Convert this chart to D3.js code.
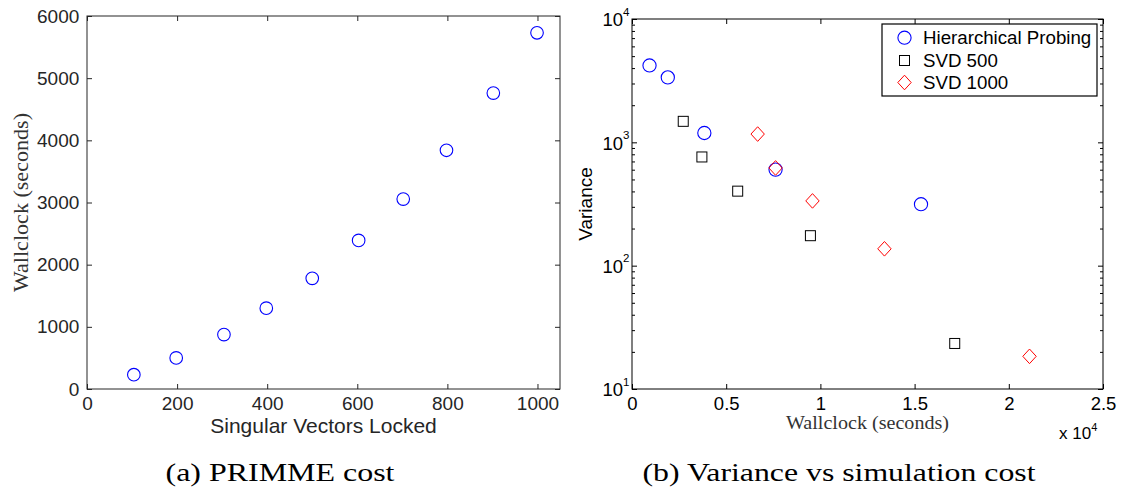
<!DOCTYPE html>
<html>
<head>
<meta charset="utf-8">
<script src="https://cdn.jsdelivr.net/npm/d3@7"></script>
<style>
  html, body { margin: 0; padding: 0; background: #fff; }
  svg { display: block; }
  .sans, .sans text { font-family: "Liberation Sans", Arial, Helvetica, sans-serif; }
  .serif { font-family: "Liberation Serif", "DejaVu Serif", serif; }
</style>
</head>
<body>
<svg id="fig" width="1121" height="490"></svg>
<script>
// (a) PRIMME cost: wallclock time against number of locked singular vectors
const lockedVectors = [104, 198, 304, 398, 500, 603, 702, 798, 902, 999];
const primmeSeconds = [230, 500, 875, 1300, 1780, 2390, 3055, 3840, 4760, 5730];
const primmeXTicks = [0, 200, 400, 600, 800, 1000];
const primmeYTicks = [0, 1000, 2000, 3000, 4000, 5000, 6000];

// (b) Variance against simulation cost for three estimators
const probingCost = [930, 1900, 3840, 7620, 15340];
const probingVariance = [4200, 3360, 1190, 601, 315];
const svd500Cost = [2720, 3710, 5610, 9470, 17130];
const svd500Variance = [1480, 761, 402, 175, 23.4];
const svd1000Cost = [6670, 7620, 9580, 13400, 21100];
const svd1000Variance = [1167, 620, 335, 137, 18.4];
const costTicks = [0, 5000, 10000, 15000, 20000, 25000];
const varianceDecades = [1, 2, 3, 4];
const seriesNames = ["Hierarchical Probing", "SVD 500", "SVD 1000"];

const svg = d3.select("#fig");
const BLUE = "#0000ff", RED = "#ff0000";

// ---------- panel (a) ----------
const xL = d3.scaleLinear().domain([0, 1050]).range([87, 560]);
const yL = d3.scaleLinear().domain([0, 6000]).range([389, 16]);
const colA = "#262626";
const plain = d3.format("d");

const gA = svg.append("g").attr("class", "sans");

function styleAxis(g, color, fs) {
  g.select(".domain").remove();
  g.attr("font-family", null);
  g.selectAll(".tick line").attr("stroke", color);
  g.selectAll(".tick text").attr("fill", color).attr("font-size", fs);
}

gA.append("g").attr("transform", `translate(0,${yL(0)})`)
  .call(d3.axisBottom(xL).tickValues(primmeXTicks).tickFormat(plain)
    .tickSizeInner(-5).tickSizeOuter(0).tickPadding(7.5))
  .call(g => styleAxis(g, colA, 19));
gA.append("g").attr("transform", `translate(0,${yL(6000)})`)
  .call(d3.axisTop(xL).tickValues(primmeXTicks).tickSizeInner(-5).tickSizeOuter(0).tickFormat(""))
  .call(g => styleAxis(g, colA, 19));
gA.append("g").attr("transform", `translate(${xL(0)},0)`)
  .call(d3.axisLeft(yL).tickValues(primmeYTicks).tickFormat(plain)
    .tickSizeInner(-5).tickSizeOuter(0).tickPadding(7.7))
  .call(g => styleAxis(g, colA, 19));
gA.append("g").attr("transform", `translate(${xL(1050)},0)`)
  .call(d3.axisRight(yL).tickValues(primmeYTicks).tickSizeInner(-5).tickSizeOuter(0).tickFormat(""))
  .call(g => styleAxis(g, colA, 19));

gA.append("rect")
  .attr("x", xL(0)).attr("y", yL(6000))
  .attr("width", xL(1050) - xL(0)).attr("height", yL(0) - yL(6000))
  .attr("fill", "none").attr("stroke", colA).attr("stroke-width", 1);

gA.append("g").selectAll("circle")
  .data(lockedVectors.map((v, i) => [v, primmeSeconds[i]]))
  .join("circle")
  .attr("cx", d => xL(d[0])).attr("cy", d => yL(d[1]))
  .attr("r", 6.3).attr("fill", "none").attr("stroke", BLUE).attr("stroke-width", 1.1);

gA.append("text")
  .attr("x", (xL(0) + xL(1050)) / 2).attr("y", 433)
  .attr("text-anchor", "middle").attr("font-size", 21).attr("fill", colA)
  .text("Singular Vectors Locked");

svg.append("text").attr("class", "serif")
  .attr("transform", `translate(28,${(yL(0) + yL(6000)) / 2}) rotate(-90)`)
  .attr("text-anchor", "middle").attr("font-size", 21).attr("fill", "#333")
  .attr("textLength", 179).attr("lengthAdjust", "spacingAndGlyphs")
  .text("Wallclock (seconds)");

svg.append("text").attr("class", "serif")
  .attr("x", 280).attr("y", 481)
  .attr("text-anchor", "middle").attr("font-size", 25).attr("fill", "#000")
  .attr("textLength", 229).attr("lengthAdjust", "spacingAndGlyphs")
  .text("(a) PRIMME cost");

// ---------- panel (b) ----------
const xR = d3.scaleLinear().domain([0, 25000]).range([632, 1103]);
const yR = d3.scaleLog().domain([10, 10000]).range([389, 19]);
const colB = "#000";

const gB = svg.append("g").attr("class", "sans");

const majorY = varianceDecades.map(e => Math.pow(10, e));
const minorY = [];
for (let e = 1; e < 4; e++) for (let m = 2; m <= 9; m++) minorY.push(m * Math.pow(10, e));

gB.append("g").attr("transform", `translate(0,${yR(10)})`)
  .call(d3.axisBottom(xR).tickValues(costTicks).tickSizeInner(-5).tickSizeOuter(0).tickPadding(8)
    .tickFormat(d => d3.format("~g")(d / 1e4)))
  .call(g => styleAxis(g, colB, 18.5));
gB.append("g").attr("transform", `translate(0,${yR(10000)})`)
  .call(d3.axisTop(xR).tickValues(costTicks).tickSizeInner(-5).tickSizeOuter(0).tickFormat(""))
  .call(g => styleAxis(g, colB, 18.5));

[[xR(0), d3.axisLeft], [xR(25000), d3.axisRight]].forEach(([x, ax]) => {
  gB.append("g").attr("transform", `translate(${x},0)`)
    .call(ax(yR).tickValues(majorY).tickSizeInner(-5).tickSizeOuter(0).tickFormat(""))
    .call(g => styleAxis(g, colB, 18.5));
  gB.append("g").attr("transform", `translate(${x},0)`)
    .call(ax(yR).tickValues(minorY).tickSizeInner(-3).tickSizeOuter(0).tickFormat(""))
    .call(g => styleAxis(g, colB, 18.5));
});

// power-of-ten labels on the log axis
const decadeLabels = gB.append("g").selectAll("text")
  .data(varianceDecades)
  .join("text")
  .attr("x", xR(0) - 2.5).attr("y", d => yR(Math.pow(10, d)) + 7.3)
  .attr("text-anchor", "end").attr("font-size", 18.5).attr("fill", colB);
decadeLabels.append("tspan").text("10");
decadeLabels.append("tspan").attr("dy", -10.5).attr("font-size", 11.5).text(d => d);

gB.append("rect")
  .attr("x", xR(0)).attr("y", yR(10000))
  .attr("width", xR(25000) - xR(0)).attr("height", yR(10) - yR(10000))
  .attr("fill", "none").attr("stroke", colB).attr("stroke-width", 1);

// axis multiplier
const mult = gB.append("text").attr("x", 1059).attr("y", 439)
  .attr("font-size", 17).attr("fill", colB);
mult.append("tspan").text("x 10");
mult.append("tspan").attr("dy", -8).attr("font-size", 11).text("4");

// markers
const symSquare = (s, x, y) => s.append("rect")
  .attr("x", x - 5).attr("y", y - 5).attr("width", 10).attr("height", 10)
  .attr("fill", "none").attr("stroke", colB).attr("stroke-width", 1);
const diamondPath = (x, y) => `M${x},${y - 7.3}L${x + 6.7},${y}L${x},${y + 7.3}L${x - 6.7},${y}Z`;

const marks = gB.append("g");
marks.selectAll("circle")
  .data(probingCost.map((c, i) => [c, probingVariance[i]]))
  .join("circle")
  .attr("cx", d => xR(d[0])).attr("cy", d => yR(d[1]))
  .attr("r", 6.6).attr("fill", "none").attr("stroke", BLUE).attr("stroke-width", 1.1);
marks.selectAll("rect.svd500")
  .data(svd500Cost.map((c, i) => [c, svd500Variance[i]]))
  .join("rect").attr("class", "svd500")
  .attr("x", d => xR(d[0]) - 5).attr("y", d => yR(d[1]) - 5)
  .attr("width", 10).attr("height", 10)
  .attr("fill", "none").attr("stroke", colB).attr("stroke-width", 1);
marks.selectAll("path.svd1000")
  .data(svd1000Cost.map((c, i) => [c, svd1000Variance[i]]))
  .join("path").attr("class", "svd1000")
  .attr("d", d => diamondPath(xR(d[0]), yR(d[1])))
  .attr("fill", "none").attr("stroke", RED).attr("stroke-width", 1);

// legend
const leg = gB.append("g");
leg.append("rect").attr("x", 882).attr("y", 24).attr("width", 215).attr("height", 72)
  .attr("fill", "#fff").attr("stroke", colB).attr("stroke-width", 1.2);
const rowY = [37.7, 60.5, 82.5];
leg.append("circle").attr("cx", 904.5).attr("cy", rowY[0]).attr("r", 6.6)
  .attr("fill", "none").attr("stroke", BLUE).attr("stroke-width", 1.1);
symSquare(leg, 904.5, rowY[1]);
leg.append("path").attr("d", diamondPath(904.5, rowY[2]))
  .attr("fill", "none").attr("stroke", RED).attr("stroke-width", 1);
leg.selectAll("text.lab").data(seriesNames).join("text").attr("class", "lab")
  .attr("x", 923).attr("y", (d, i) => rowY[i] + 6.7)
  .attr("font-size", 18.7).attr("fill", colB).text(d => d);

gB.append("text")
  .attr("transform", `translate(592,${(yR(10) + yR(10000)) / 2}) rotate(-90)`)
  .attr("text-anchor", "middle").attr("font-size", 19).attr("fill", colB)
  .text("Variance");

svg.append("text").attr("class", "serif")
  .attr("x", (xR(0) + xR(25000)) / 2).attr("y", 429)
  .attr("text-anchor", "middle").attr("font-size", 18).attr("fill", "#333")
  .attr("textLength", 163).attr("lengthAdjust", "spacingAndGlyphs")
  .text("Wallclock (seconds)");

svg.append("text").attr("class", "serif")
  .attr("x", 839).attr("y", 481)
  .attr("text-anchor", "middle").attr("font-size", 25).attr("fill", "#000")
  .attr("textLength", 393).attr("lengthAdjust", "spacingAndGlyphs")
  .text("(b) Variance vs simulation cost");
</script>
</body>
</html>
